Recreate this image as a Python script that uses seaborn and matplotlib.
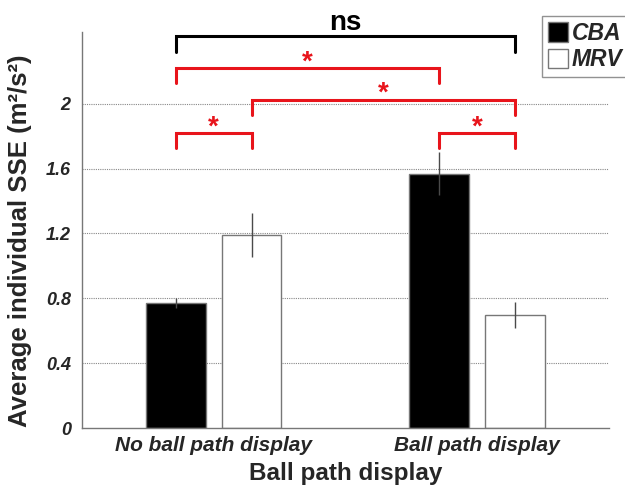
import matplotlib
matplotlib.use("Agg")
import matplotlib.pyplot as plt
import seaborn as sns
import pandas as pd
from matplotlib.patches import Patch

# Data
conditions = ["No ball path display", "Ball path display"]
groups = ["CBA", "MRV"]
cba_mean = [0.77, 1.57]
mrv_mean = [1.19, 0.70]
cba_err = [0.03, 0.13]
mrv_err = [0.135, 0.08]
yticks = [0, 0.4, 0.8, 1.2, 1.6, 2.0]
ytick_labels = ["0", "0.4", "0.8", "1.2", "1.6", "2"]

df = pd.DataFrame({
    "condition": conditions * 2,
    "group": ["CBA"] * 2 + ["MRV"] * 2,
    "sse": cba_mean + mrv_mean,
    "err": cba_err + mrv_err,
})

sns.set_style("white")
plt.rcParams["font.family"] = ["Liberation Sans", "DejaVu Sans"]

fig = plt.figure(figsize=(6.25, 4.9), dpi=100)
ax = fig.add_axes([0.131, 0.1265, 0.843, 0.8085])

sns.barplot(data=df, x="condition", y="sse", hue="group", order=conditions,
            hue_order=groups, palette={"CBA": "black", "MRV": "white"},
            width=0.576, gap=0.21, errorbar=None, edgecolor="#777777",
            linewidth=1.0, legend=False, ax=ax)

# bar centres keyed by (group, condition)
centers = {}
for i, bar in enumerate(ax.patches[:4]):
    g = groups[i // 2]
    c = conditions[i % 2]
    centers[(g, c)] = bar.get_x() + bar.get_width() / 2

for _, row in df.iterrows():
    xc = centers[(row["group"], row["condition"])]
    ax.errorbar(xc, row["sse"], yerr=row["err"], fmt="none",
                ecolor="#4a4a4a", elinewidth=1.0, capsize=0, zorder=3)

ax.set_xlim(-0.5, 1.5)
ax.set_ylim(0, 2.444)
ax.set_yticks(yticks)
ax.set_yticklabels(ytick_labels, fontsize=13, fontweight="bold", style="italic")
ax.set_xticks([0, 1])
ax.set_xticklabels(conditions, fontsize=15, fontweight="bold", style="italic")
ax.tick_params(axis="x", direction="in", length=3, width=0.8, color="#777777", pad=6)
ax.tick_params(axis="y", direction="out", length=4, width=0.8, color="#999999", pad=4)
for y in yticks[1:]:
    ax.axhline(y, color="#888888", linestyle=(0, (1, 1)), linewidth=0.8, zorder=0)

for s in ["top", "right"]:
    ax.spines[s].set_visible(False)
for s in ["left", "bottom"]:
    ax.spines[s].set_color("#777777")
    ax.spines[s].set_linewidth(1.0)

ax.set_xlabel("Ball path display", fontsize=17.5, fontweight="bold", labelpad=5)
ax.set_ylabel("Average individual SSE (m²/s²)", fontsize=18.5, fontweight="bold")
ax.yaxis.set_label_coords(-0.094, 0.472)


def bracket(x1, x2, ytop, ybot, color, label, ytext, size, va="center"):
    ax.plot([x1, x1, x2, x2], [ybot, ytop, ytop, ybot], color=color,
            linewidth=2.2, clip_on=False, solid_joinstyle="miter", zorder=4)
    ax.text((x1 + x2) / 2, ytext, label, color=color, ha="center", va=va,
            fontsize=size, fontweight="bold", clip_on=False)


c1 = centers[("CBA", conditions[0])]
m1 = centers[("MRV", conditions[0])]
c2 = centers[("CBA", conditions[1])]
m2 = centers[("MRV", conditions[1])]
red = "#e8141b"
bracket(c1, m2, 2.42, 2.32, "black", "ns", 2.457, 20, va="baseline")
bracket(c1, c2, 2.22, 2.13, red, "*", 2.255, 20)
bracket(m1, m2, 2.025, 1.93, red, "*", 2.06, 20)
bracket(c1, m1, 1.82, 1.73, red, "*", 1.855, 20)
bracket(c2, m2, 1.82, 1.73, red, "*", 1.855, 20)

handles = [Patch(facecolor="black", edgecolor="#777777", label="CBA"),
           Patch(facecolor="white", edgecolor="#777777", label="MRV")]
leg = fig.legend(handles=handles, loc="upper left", bbox_to_anchor=(0.867, 0.967),
                 borderaxespad=0, frameon=True, fancybox=False,
                 handlelength=0.9, handleheight=0.9, handletextpad=0.15,
                 borderpad=0.25, labelspacing=0.15,
                 prop={"size": 16.5, "weight": "bold", "style": "italic"})
leg.get_frame().set_edgecolor("#777777")
leg.get_frame().set_linewidth(1.0)

fig.savefig("out.png", dpi=100)
